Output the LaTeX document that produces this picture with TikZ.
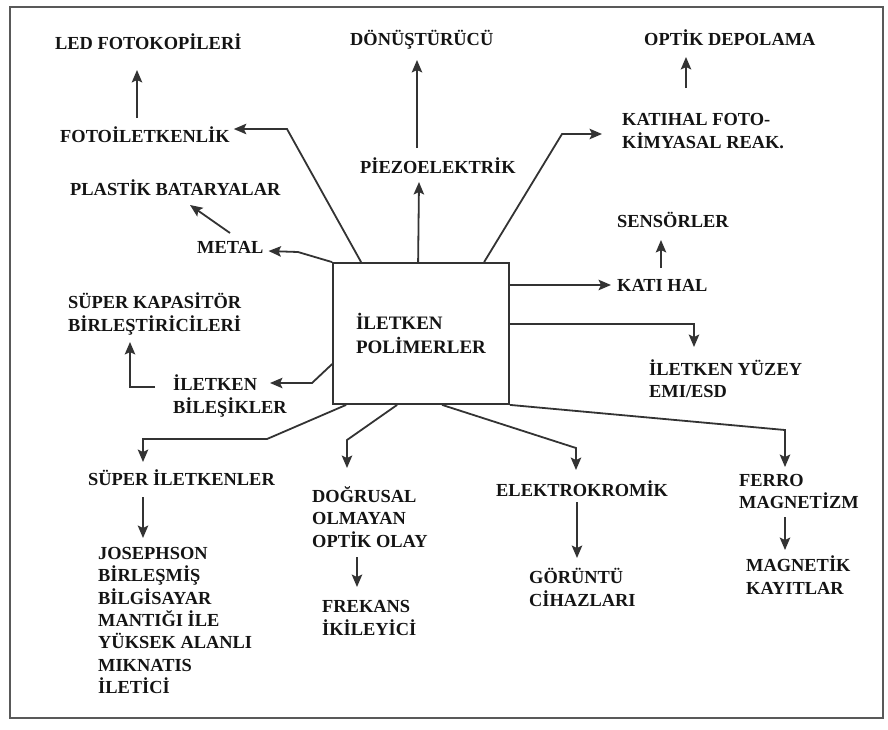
\documentclass[tikz,border=0pt]{standalone}
\usepackage{fontspec}
\setmainfont{Liberation Serif}
\usetikzlibrary{arrows.meta,calc}
\begin{document}
\begin{tikzpicture}[x=1pt,y=-1pt,
 lbl/.style={anchor=west, inner sep=3pt, font=\fontsize{18.4}{22.3}\selectfont\bfseries, align=left, text=black!92},
 arr/.style={line width=1.8pt, draw=black!80, -{Stealth[length=12.5pt,width=10.5pt,inset=2.5pt]}},
 cbox/.style={draw=black!80, line width=1.8pt, minimum width=176pt, minimum height=141pt, inner sep=0pt, font=\fontsize{19}{24}\selectfont\bfseries, align=left, text=black!92}]
\useasboundingbox (0,0) rectangle (888,729);
\draw[black!65, line width=2.2pt] (10,7) rectangle (883,718);

% central box
\node[cbox] (box) at (421,333.5) {İLETKEN\\POLİMERLER};

% labels
\node[lbl] (led) at (52,42) {LED FOTOKOPİLERİ};
\node[lbl] (foto) at (57,135) {FOTOİLETKENLİK};
\node[lbl] (plastik) at (67,188) {PLASTİK BATARYALAR};
\node[lbl] (metal) at (194,247) {METAL};
\node[lbl] (superkap) at (65,314) {SÜPER KAPASİTÖR\\BİRLEŞTİRİCİLERİ};
\node[lbl] (bilesik) at (170,396) {İLETKEN\\BİLEŞİKLER};
\node[lbl] (donus) at (347,40) {DÖNÜŞTÜRÜCÜ};
\node[lbl] (piezo) at (357,166) {PİEZOELEKTRİK};
\node[lbl] (katihalfoto) at (619,131) {KATIHAL FOTO-\\KİMYASAL REAK.};
\node[lbl] (optik) at (641,38) {OPTİK DEPOLAMA};
\node[lbl] (sensor) at (614,220) {SENSÖRLER};
\node[lbl] (katihal) at (614,285) {KATI HAL};
\node[lbl] (yuzey) at (646,379) {İLETKEN YÜZEY\\EMI/ESD};
\node[lbl] (superilet) at (85,478) {SÜPER İLETKENLER};
\node[lbl] (joseph) at (95,620.5) {JOSEPHSON\\BİRLEŞMİŞ\\BİLGİSAYAR\\MANTIĞI İLE\\YÜKSEK ALANLI\\MIKNATIS\\İLETİCİ};
\node[lbl] (dogrusal) at (309,517) {DOĞRUSAL\\OLMAYAN\\OPTİK OLAY};
\node[lbl] (frekans) at (319,618) {FREKANS\\İKİLEYİCİ};
\node[lbl] (elektro) at (493,489) {ELEKTROKROMİK};
\node[lbl] (goruntu) at (526,587.5) {GÖRÜNTÜ\\CİHAZLARI};
\node[lbl] (ferro) at (736,491.5) {FERRO\\MAGNETİZM};
\node[lbl] (magnetik) at (743,575) {MAGNETİK\\KAYITLAR};

% connectors
\draw[arr] ($(box.north west)+(29,0)$) -- (287,129) -- ($(foto.east)+(1,-6)$);
\draw[arr] ($(foto.west)+(80,-17)$) -- ($(led.west)+(85,28)$);
\draw[arr] (box.north west) -- (298,252) -- ($(metal.east)+(2,4)$);
\draw[arr] ($(metal.west)+(36,-14)$) -- ($(plastik.west)+(123,17)$);
\draw[arr] ($(box.north west)+(86,0)$) -- ($(piezo.west)+(62,16)$);
\draw[arr] ($(piezo.west)+(60,-18)$) -- ($(donus.west)+(70,20)$);
\draw[arr] ($(box.north west)+(152,0)$) -- (562,134) -- ($(katihalfoto.west)+(-17,3)$);
\draw[arr] ($(katihalfoto.west)+(67,-43)$) -- ($(optik.west)+(45,19)$);
\draw[arr] (box.east |- katihal.west) -- ($(katihal.west)+(-3,0)$);
\draw[arr] ($(katihal.west)+(47,-17)$) -- ($(sensor.west)+(47,20)$);
\draw[arr] ($(box.north east)+(0,62)$) -| ($(yuzey.west)+(48,-32)$);
\draw[arr] ($(bilesik.west)+(-15,-9)$) -| ($(superkap.west)+(65,28)$);
\draw[arr] ($(box.north west)+(0,102)$) -- (312,383) -- ($(bilesik.west)+(100,-13)$);
\draw[arr] ($(box.south west)+(14,0)$) -- (267,439) -| ($(superilet.west)+(58,-16)$);
\draw[arr] ($(superilet.west)+(58,19)$) -- ($(joseph.west)+(48,-82.5)$);
\draw[arr] ($(box.south west)+(65,0)$) -- (347,440) -- ($(dogrusal.west)+(38,-49)$);
\draw[arr] ($(dogrusal.west)+(48,40)$) -- ($(frekans.west)+(38,-31)$);
\draw[arr] ($(box.south west)+(110,0)$) -- (576,448) -- ($(elektro.west)+(83,-19)$);
\draw[arr] ($(elektro.west)+(84,13)$) -- ($(goruntu.west)+(51,-29.5)$);
\draw[arr] (box.south east) -- (785,430) -- ($(ferro.west)+(49,-24.5)$);
\draw[arr] ($(ferro.west)+(49,25.5)$) -- ($(magnetik.west)+(42,-25)$);
\end{tikzpicture}
\end{document}
